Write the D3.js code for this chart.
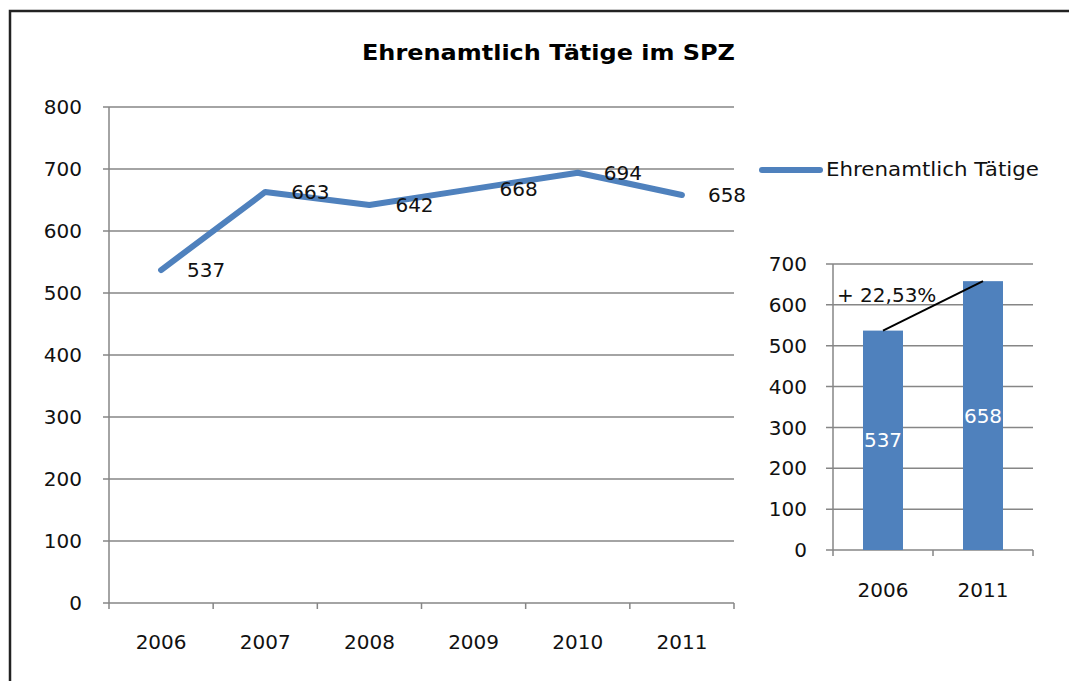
<!DOCTYPE html>
<html>
<head>
<meta charset="utf-8">
<script src="https://cdn.jsdelivr.net/npm/d3@7"></script>
<style>
  body { margin: 0; background: #fff; }
  svg { display: block; font-family: "DejaVu Sans", Verdana, sans-serif; }
</style>
</head>
<body>
<div id="node"></div>
<script>
// data
const years = ["2006", "2007", "2008", "2009", "2010", "2011"];
const values = [537, 663, 642, 668, 694, 658];
const yTicks = [0, 100, 200, 300, 400, 500, 600, 700, 800];
const seriesName = "Ehrenamtlich Tätige";
const title = "Ehrenamtlich Tätige im SPZ";

const cmpYears = ["2006", "2011"];
const cmpValues = [537, 658];
const cmpTicks = [0, 100, 200, 300, 400, 500, 600, 700];
const cmpLabel = "+ 22,53%";

const blue = "#4F81BD";
const grid = "#868686";
const fs = 20;
const W = 1069, H = 681;

const svg = d3.select("#node").append("svg")
    .attr("width", W).attr("height", H);

// frame (only left and top edges are visible)
svg.append("rect")
    .attr("x", 10).attr("y", 11)
    .attr("width", W + 20).attr("height", H + 20)
    .attr("fill", "none").attr("stroke", "#222").attr("stroke-width", 2.5);

// title
svg.append("text")
    .attr("x", 548.5).attr("y", 60)
    .attr("text-anchor", "middle")
    .attr("font-weight", "bold")
    .attr("font-size", 22)
    .attr("textLength", 373).attr("lengthAdjust", "spacingAndGlyphs")
    .text(title);

// main line chart
const x = d3.scaleBand().domain(years).range([109, 734]);
const y = d3.scaleLinear().domain([0, 800]).range([603, 107]);

const g = svg.append("g");
g.selectAll(".grid").data(yTicks).enter().append("line")
    .attr("x1", 103).attr("x2", 734)
    .attr("y1", d => y(d)).attr("y2", d => y(d))
    .attr("stroke", grid).attr("stroke-width", 1.5);
g.append("line")
    .attr("x1", 109).attr("x2", 109).attr("y1", y(800)).attr("y2", y(0))
    .attr("stroke", grid).attr("stroke-width", 1.5);
// category tick marks on boundaries
const bounds = years.map(d => x(d)).concat([x.range()[1]]);
g.selectAll(".xt").data(bounds).enter().append("line")
    .attr("x1", d => d).attr("x2", d => d)
    .attr("y1", y(0)).attr("y2", y(0) + 6)
    .attr("stroke", grid).attr("stroke-width", 1.5);
g.selectAll(".yl").data(yTicks).enter().append("text")
    .attr("x", 82).attr("y", d => y(d))
    .attr("dy", "0.36em")
    .attr("text-anchor", "end").attr("font-size", fs).attr("fill", "#111")
    .text(d => d);
g.selectAll(".xl").data(years).enter().append("text")
    .attr("x", d => x(d) + x.bandwidth() / 2).attr("y", 649)
    .attr("text-anchor", "middle").attr("font-size", fs).attr("fill", "#111")
    .text(d => d);

const line = d3.line()
    .x((d, i) => x(years[i]) + x.bandwidth() / 2)
    .y(d => y(d));
g.append("path").datum(values)
    .attr("d", line)
    .attr("fill", "none").attr("stroke", blue).attr("stroke-width", 6)
    .attr("stroke-linecap", "round").attr("stroke-linejoin", "round");
g.selectAll(".vl").data(values).enter().append("text")
    .attr("x", (d, i) => x(years[i]) + x.bandwidth() / 2 + 26)
    .attr("y", d => y(d)).attr("dy", "0.36em")
    .attr("font-size", fs).attr("fill", "#111")
    .text(d => d);

// legend
svg.append("line")
    .attr("x1", 762).attr("x2", 820).attr("y1", 170).attr("y2", 170)
    .attr("stroke", blue).attr("stroke-width", 6).attr("stroke-linecap", "round");
svg.append("text")
    .attr("x", 826).attr("y", 176)
    .attr("font-size", fs).attr("fill", "#111")
    .attr("textLength", 213).attr("lengthAdjust", "spacingAndGlyphs")
    .text(seriesName);

// small comparison bar chart
const xb = d3.scaleBand().domain(cmpYears).range([833, 1033])
    .paddingInner(0.6).paddingOuter(0.3);
const yb = d3.scaleLinear().domain([0, 700]).range([550, 264]);
const gb = svg.append("g");
gb.selectAll(".grid").data(cmpTicks).enter().append("line")
    .attr("x1", 826).attr("x2", 1033)
    .attr("y1", d => yb(d)).attr("y2", d => yb(d))
    .attr("stroke", grid).attr("stroke-width", 1.5);
gb.append("line")
    .attr("x1", 833).attr("x2", 833).attr("y1", yb(700)).attr("y2", yb(0))
    .attr("stroke", grid).attr("stroke-width", 1.5);
const bb = [833, 933, 1033];
gb.selectAll(".xt").data(bb).enter().append("line")
    .attr("x1", d => d).attr("x2", d => d)
    .attr("y1", yb(0)).attr("y2", yb(0) + 6)
    .attr("stroke", grid).attr("stroke-width", 1.5);
gb.selectAll(".bar").data(cmpValues).enter().append("rect")
    .attr("x", (d, i) => xb(cmpYears[i]))
    .attr("width", xb.bandwidth())
    .attr("y", d => yb(d))
    .attr("height", d => yb(0) - yb(d))
    .attr("fill", blue);
gb.selectAll(".yl").data(cmpTicks).enter().append("text")
    .attr("x", 807).attr("y", d => yb(d)).attr("dy", "0.36em")
    .attr("text-anchor", "end").attr("font-size", fs).attr("fill", "#111")
    .text(d => d);
gb.selectAll(".xl").data(cmpYears).enter().append("text")
    .attr("x", d => xb(d) + xb.bandwidth() / 2).attr("y", 597)
    .attr("text-anchor", "middle").attr("font-size", fs).attr("fill", "#111")
    .text(d => d);
gb.selectAll(".bl").data(cmpValues).enter().append("text")
    .attr("x", (d, i) => xb(cmpYears[i]) + xb.bandwidth() / 2)
    .attr("y", d => (yb(d) + yb(0)) / 2).attr("dy", "0.36em")
    .attr("text-anchor", "middle").attr("font-size", fs).attr("fill", "#fff")
    .text(d => d);
// growth line between bar tops
gb.append("line")
    .attr("x1", xb(cmpYears[0]) + xb.bandwidth() / 2).attr("y1", yb(cmpValues[0]))
    .attr("x2", xb(cmpYears[1]) + xb.bandwidth() / 2).attr("y2", yb(cmpValues[1]))
    .attr("stroke", "#000").attr("stroke-width", 2);
gb.append("text")
    .attr("x", 837).attr("y", 302)
    .attr("font-size", fs).attr("fill", "#111")
    .text(cmpLabel);
</script>
</body>
</html>
